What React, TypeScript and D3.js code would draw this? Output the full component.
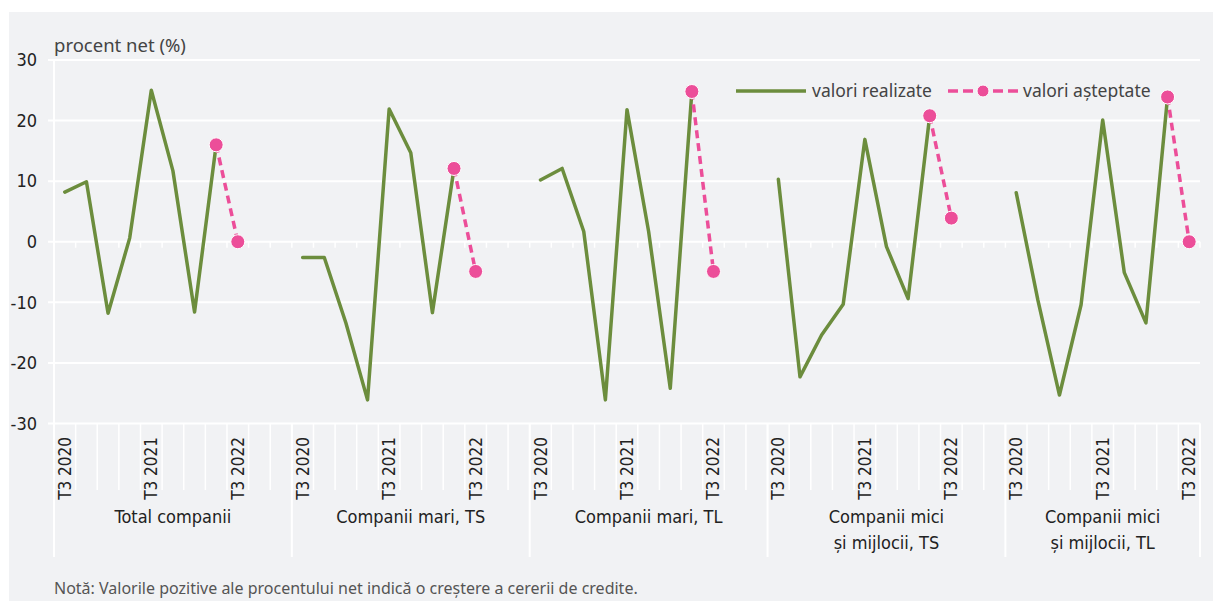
import { useEffect, useRef } from 'react'
import * as d3 from 'd3'

const WIDTH = 1213
const HEIGHT = 601
const PLOT_LEFT = 54
const PLOT_RIGHT = 1200
const PLOT_TOP = 60
const PLOT_BOTTOM = 423.5

const BG = '#f1f2f4'
const GREEN = '#6c8d3d'
const PINK = '#ec4e99'
const TEXT = '#222'
const NARROW = '"Liberation Sans Narrow", "DejaVu Sans Condensed", Arial, sans-serif'
const REGULAR = '"Noto Sans", "Open Sans", sans-serif'

// Quarters shown in each panel, label only for T3
const quarters = ['T3 2020', 'T4 2020', 'T1 2021', 'T2 2021', 'T3 2021', 'T4 2021', 'T1 2022', 'T2 2022', 'T3 2022']
const tickLabels = ['T3 2020', 'T3 2021', 'T3 2022']

const groupNames = [
  ['Total companii'],
  ['Companii mari, TS'],
  ['Companii mari, TL'],
  ['Companii mici', 'și mijlocii, TS'],
  ['Companii mici', 'și mijlocii, TL'],
]

// valori realizate (T3 2020 .. T2 2022)
const realizedTotal = [8.2, 9.9, -11.8, 0.6, 25.0, 11.7, -11.6, 16.0]
const realizedMariTS = [-2.6, -2.6, -13.4, -26.1, 21.9, 14.7, -11.7, 12.1]
const realizedMariTL = [10.2, 12.1, 1.7, -26.1, 21.8, 1.7, -24.2, 24.8]
const realizedMiciTS = [10.3, -22.3, -15.4, -10.3, 16.9, -0.8, -9.4, 20.8]
const realizedMiciTL = [8.1, -9.6, -25.3, -10.4, 20.1, -5.1, -13.4, 23.9]

// valori asteptate (T2 2022, T3 2022)
const expectedTotal = [16.0, 0]
const expectedMariTS = [12.1, -4.9]
const expectedMariTL = [24.8, -4.9]
const expectedMiciTS = [20.8, 3.9]
const expectedMiciTL = [23.9, 0]

const yTicks = [30, 20, 10, 0, -10, -20, -30]

const realized = [realizedTotal, realizedMariTS, realizedMariTL, realizedMiciTS, realizedMiciTL]
const expected = [expectedTotal, expectedMariTS, expectedMariTL, expectedMiciTS, expectedMiciTL]

const PAD_SLOTS = 2

function App() {
  const svgRef = useRef(null)

  useEffect(() => {
    if (!svgRef.current) return
    const svg = d3.select(svgRef.current)
    svg.selectAll('*').remove()

    // Build category keys: 9 quarters per group + 2 blank slots between groups
    const keys: string[] = []
    const groupStart: number[] = []
    groupNames.forEach((_, g) => {
      groupStart.push(keys.length)
      quarters.forEach(q => keys.push(`${g}|${q}`))
      if (g < groupNames.length - 1) {
        for (let p = 0; p < PAD_SLOTS; p++) keys.push(`${g}|pad${p}`)
      }
    })

    const x = d3.scaleBand().domain(keys).range([PLOT_LEFT, PLOT_RIGHT]).paddingInner(0).paddingOuter(0)
    const y = d3.scaleLinear().domain([-30, 30]).range([PLOT_BOTTOM, PLOT_TOP])
    const cx = (g: number, q: string) => (x(`${g}|${q}`) as number) + x.bandwidth() / 2

    svg.append('rect')
      .attr('x', 9).attr('y', 12)
      .attr('width', WIDTH - 9).attr('height', HEIGHT - 12)
      .attr('fill', BG)

    // horizontal gridlines
    svg.append('g')
      .selectAll('line')
      .data(yTicks)
      .enter()
      .append('line')
      .attr('x1', PLOT_LEFT - 6)
      .attr('x2', PLOT_RIGHT)
      .attr('y1', d => y(d))
      .attr('y2', d => y(d))
      .attr('stroke', '#fff')
      .attr('stroke-width', 2)

    // y labels
    svg.append('g')
      .selectAll('text')
      .data(yTicks)
      .enter()
      .append('text')
      .attr('x', 37)
      .attr('y', d => y(d))
      .attr('dy', '0.35em')
      .attr('text-anchor', 'end')
      .attr('font-family', NARROW)
      .attr('font-size', 18)
      .attr('font-weight', 500)
      .attr('fill', TEXT)
      .text(d => d)

    svg.append('text')
      .attr('x', 54)
      .attr('y', 52)
      .attr('font-family', REGULAR)
      .attr('font-size', 18.5)
      .attr('fill', '#444')
      .text('procent net (%)')

    // band boundaries
    const boundaries = keys.map(k => x(k) as number).concat([PLOT_RIGHT])
    const groupEdges = groupStart.map(i => x(keys[i]) as number).concat([PLOT_RIGHT])

    // small ticks hanging below the zero line
    svg.append('g')
      .selectAll('line')
      .data(boundaries)
      .enter()
      .append('line')
      .attr('x1', d => d).attr('x2', d => d)
      .attr('y1', y(0)).attr('y2', y(0) + 6)
      .attr('stroke', '#fff')
      .attr('stroke-width', 1.5)

    // tick marks in label area
    svg.append('g')
      .selectAll('line')
      .data(boundaries)
      .enter()
      .append('line')
      .attr('x1', d => d).attr('x2', d => d)
      .attr('y1', PLOT_BOTTOM).attr('y2', 490)
      .attr('stroke', '#fff')
      .attr('stroke-width', 1.5)

    // y axis line + group separators
    svg.append('line')
      .attr('x1', PLOT_LEFT).attr('x2', PLOT_LEFT)
      .attr('y1', PLOT_TOP).attr('y2', PLOT_BOTTOM)
      .attr('stroke', '#fff')
      .attr('stroke-width', 2)

    svg.append('g')
      .selectAll('line')
      .data(groupEdges)
      .enter()
      .append('line')
      .attr('x1', d => d).attr('x2', d => d)
      .attr('y1', PLOT_BOTTOM).attr('y2', 557)
      .attr('stroke', '#fff')
      .attr('stroke-width', 2)

    // quarter labels
    const labelData: { x: number; t: string }[] = []
    groupNames.forEach((_, g) => {
      tickLabels.forEach(t => labelData.push({ x: cx(g, t), t }))
    })
    svg.append('g')
      .selectAll('text')
      .data(labelData)
      .enter()
      .append('text')
      .attr('transform', d => `translate(${d.x + 6},437) rotate(-90)`)
      .attr('text-anchor', 'end')
      .attr('font-family', NARROW)
      .attr('font-size', 17)
      .attr('fill', TEXT)
      .text(d => d.t)

    // group labels
    groupNames.forEach((lines, g) => {
      const mid = (groupEdges[g] + groupEdges[g + 1]) / 2
      const t = svg.append('text')
        .attr('text-anchor', 'middle')
        .attr('font-family', NARROW)
        .attr('font-size', 18)
        .attr('font-weight', 500)
        .attr('fill', TEXT)
      lines.forEach((ln, i) => {
        t.append('tspan').attr('x', mid).attr('y', 523 + i * 26).text(ln)
      })
    })

    // series
    const seriesLine = d3.line<{ x: number; v: number }>().x(d => d.x).y(d => y(d.v))
    realized.forEach((vals, g) => {
      const pts = vals.map((v, i) => ({ x: cx(g, quarters[i]), v }))
      svg.append('path')
        .attr('d', seriesLine(pts))
        .attr('fill', 'none')
        .attr('stroke', GREEN)
        .attr('stroke-width', 3.5)
        .attr('stroke-linejoin', 'round')
        .attr('stroke-linecap', 'round')
    })

    expected.forEach((vals, g) => {
      const pts = vals.map((v, i) => ({ x: cx(g, quarters[7 + i]), v }))
      svg.append('path')
        .attr('d', seriesLine(pts))
        .attr('fill', 'none')
        .attr('stroke', PINK)
        .attr('stroke-width', 3.5)
        .attr('stroke-dasharray', '8,5')
      svg.append('g')
        .selectAll('circle')
        .data(pts)
        .enter()
        .append('circle')
        .attr('cx', d => d.x)
        .attr('cy', d => y(d.v))
        .attr('r', 7)
        .attr('fill', PINK)
        .attr('stroke', '#fff')
        .attr('stroke-width', 1)
    })

    // legend
    const lg = svg.append('g')
    lg.append('line')
      .attr('x1', 736).attr('x2', 806).attr('y1', 91).attr('y2', 91)
      .attr('stroke', GREEN).attr('stroke-width', 3.5)
    lg.append('text')
      .attr('x', 812).attr('y', 91).attr('dy', '0.35em')
      .attr('font-family', REGULAR).attr('font-size', 17.5).attr('fill', '#444')
      .text('valori realizate')
    lg.append('line')
      .attr('x1', 948).attr('x2', 1018).attr('y1', 91).attr('y2', 91)
      .attr('stroke', PINK).attr('stroke-width', 3.5).attr('stroke-dasharray', '10,5')
    lg.append('circle')
      .attr('cx', 983).attr('cy', 91).attr('r', 6)
      .attr('fill', PINK).attr('stroke', '#fff').attr('stroke-width', 1)
    lg.append('text')
      .attr('x', 1023).attr('y', 91).attr('dy', '0.35em')
      .attr('font-family', REGULAR).attr('font-size', 17.5).attr('fill', '#444')
      .text('valori așteptate')

    svg.append('text')
      .attr('x', 54).attr('y', 594)
      .attr('font-family', REGULAR).attr('font-size', 16).attr('fill', '#555')
      .text('Notă: Valorile pozitive ale procentului net indică o creștere a cererii de credite.')
  }, [])

  return (
    <svg ref={svgRef} width={WIDTH} height={HEIGHT}
      style={{ position: 'absolute', left: 0, top: 0, background: '#fff' }} />
  )
}

export default App
